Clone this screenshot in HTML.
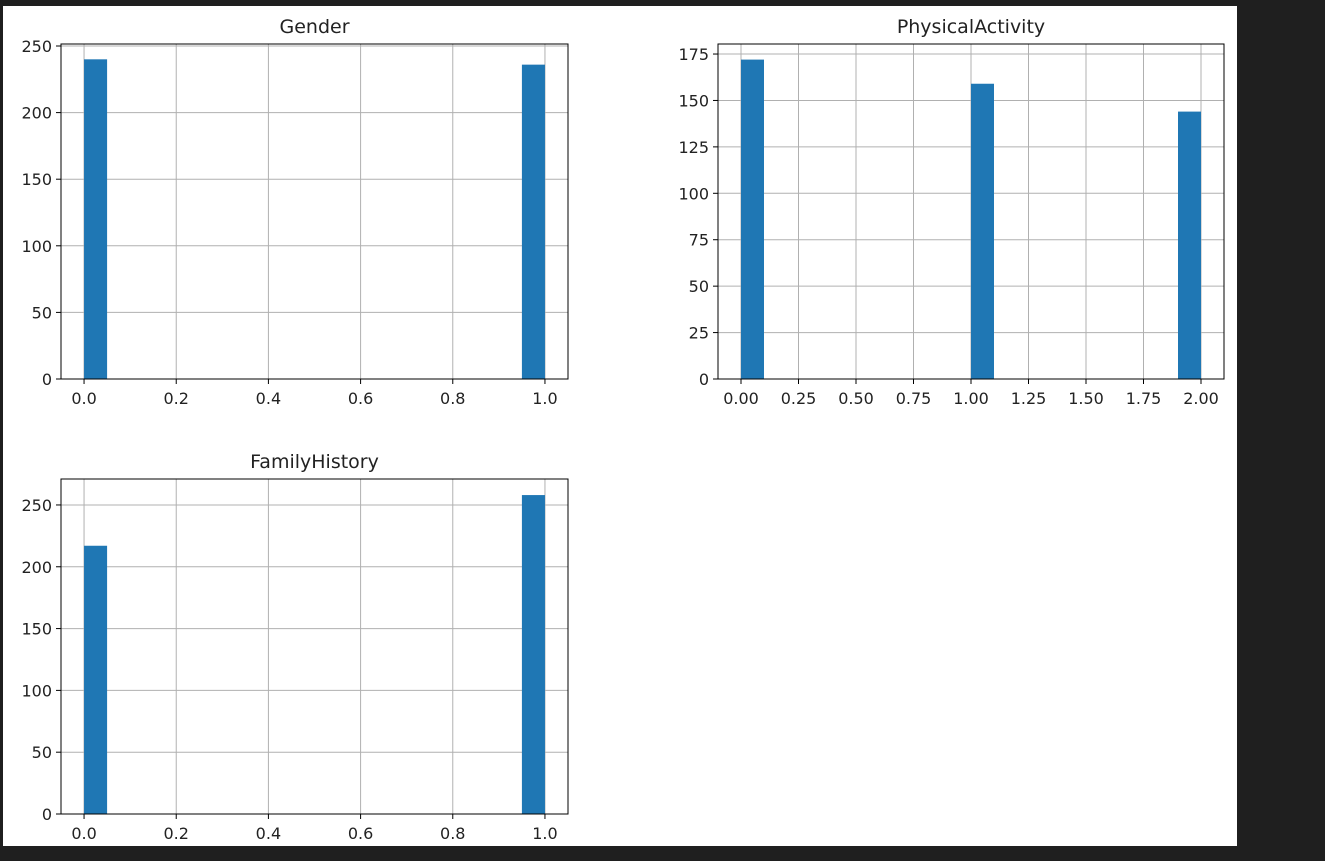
<!DOCTYPE html>
<html><head><meta charset="utf-8"><style>
body{margin:0;background:#1f1f1f;width:1325px;height:861px;overflow:hidden;font-family:"DejaVu Sans","Liberation Sans",sans-serif}
svg{position:absolute;left:0;top:0}
</style></head><body>
<svg id="c" width="1325" height="861">
<rect x="3" y="6" width="1234" height="840" fill="#fff"/>
</svg>
<script>
const genderBins=[0,1];
const genderCounts=[240,236];
const activityBins=[0,1,2];
const activityCounts=[172,159,144];
const familyBins=[0,1];
const familyCounts=[217,258];
const genderXTicks=["0.0","0.2","0.4","0.6","0.8","1.0"];
const activityXTicks=["0.00","0.25","0.50","0.75","1.00","1.25","1.50","1.75","2.00"];
const genderYTicks=[0,50,100,150,200,250];
const activityYTicks=[0,25,50,75,100,125,150,175];
const familyYTicks=[0,50,100,150,200,250];

const NS="http://www.w3.org/2000/svg";
const svg=document.getElementById('c');
function mk(t,a,p){const e=document.createElementNS(NS,t);for(const k in a)e.setAttribute(k,a[k]);(p||svg).appendChild(e);return e;}

function panel(o){
  const g=mk('g',{});
  
  
  const X=v=>o.L+(v-o.x0)/(o.x1-o.x0)*(o.R-o.L);
  const Y=v=>o.B-v/o.ymax*(o.B-o.T);
  o.xt.forEach(t=>{const x=X(parseFloat(t));
    const l=mk('line',{x1:x,x2:x,y1:o.T,y2:o.B,stroke:'#b0b0b0','stroke-width':1},g);
    });
  o.yt.forEach(v=>{const y=Y(v);
    const l=mk('line',{x1:o.L,x2:o.R,y1:y,y2:y,stroke:'#b0b0b0','stroke-width':1},g);
    });
  o.bins.forEach((b,i)=>{
    const last=i===o.bins.length-1;
    const a=last?X(b-o.bw):X(b), c=last?X(b):X(b+o.bw);
    const r=mk('rect',{x:a,y:Y(o.counts[i]),width:c-a,height:o.B-Y(o.counts[i]),fill:'#1f77b4'},g);
    
  });
  const f=mk('rect',{x:o.L,y:o.T,width:o.R-o.L,height:o.B-o.T,fill:'none',stroke:'#000','stroke-width':1},g);
  
  o.xt.forEach(t=>{const x=X(parseFloat(t));
    mk('line',{x1:x,x2:x,y1:o.B,y2:o.B+5,stroke:'#000'},g);
    const tx=mk('text',{x:x,y:o.B+25,'text-anchor':'middle','font-size':16,fill:'#222'},g);
    tx.textContent=t;});
  o.yt.forEach(v=>{const y=Y(v);
    mk('line',{x1:o.L-5,x2:o.L,y1:y,y2:y,stroke:'#000'},g);
    const tx=mk('text',{x:o.L-9,y:y+6,'text-anchor':'end','font-size':16,fill:'#222'},g);
    tx.textContent=v;});
  const ti=mk('text',{x:(o.L+o.R)/2,y:o.T-11,'text-anchor':'middle','font-size':19,fill:'#222'},g);
  ti.textContent=o.title;
}
panel({name:'gender-histogram',title:'Gender',L:61,R:568,T:44,B:379,x0:-0.05,x1:1.05,ymax:251.5,bw:0.05,bins:genderBins,counts:genderCounts,xt:genderXTicks,yt:genderYTicks});
panel({name:'physical-activity-histogram',title:'PhysicalActivity',L:718,R:1224,T:44,B:379,x0:-0.1,x1:2.1,ymax:180.4,bw:0.1,bins:activityBins,counts:activityCounts,xt:activityXTicks,yt:activityYTicks});
panel({name:'family-history-histogram',title:'FamilyHistory',L:61,R:568,T:479,B:814,x0:-0.05,x1:1.05,ymax:271,bw:0.05,bins:familyBins,counts:familyCounts,xt:genderXTicks,yt:familyYTicks});
</script>
</body></html>
